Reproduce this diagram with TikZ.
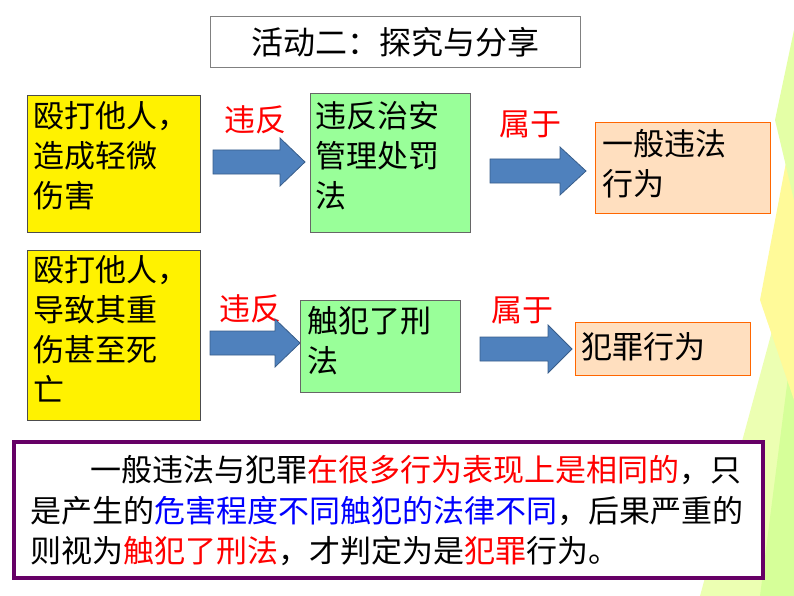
\documentclass[tikz,border=0pt]{standalone}
\usepackage{fontspec}
\setmainfont{Noto Sans CJK SC}
\definecolor{arrblue}{HTML}{4F81BD}
\definecolor{arrborder}{HTML}{385D8A}
\begin{document}
\begin{tikzpicture}[x=1pt,y=-1pt,
  ybox/.style={draw=black!70,fill=yellow,line width=0.8pt},
  gbox/.style={draw=black!60,fill=green!40!white,line width=0.8pt},
  obox/.style={draw=orange!80!red,fill=orange!25!white,line width=0.8pt},
  txt/.style={anchor=north west,align=left,font=\fontsize{31}{40}\selectfont,inner sep=0pt},
  lbl/.style={text=red,font=\fontsize{31}{34}\selectfont,inner sep=0pt},
  barrow/.style={fill=arrblue,draw=arrborder,line width=0.8pt}]
\useasboundingbox (0,0) rectangle (794,596);
% background decoration
\fill[green!25!yellow!30] (794,250) -- (700,596) -- (794,596) -- cycle;
\fill[green!40!yellow!40] (794,330) -- (760,596) -- (794,596) -- cycle;
\fill[yellow!40] (794,120) -- (760,300) -- (794,400) -- cycle;
\fill[green!30!yellow!35] (794,30) -- (775,120) -- (794,200) -- cycle;
% title
\node[draw=black!50,line width=1pt,fill=white,minimum width=370pt,minimum height=51pt,font=\fontsize{32}{36}\selectfont] (title) at (395,42) {活动二：探究与分享};
% row 1
\draw[ybox] (27,95) rectangle (200,232);
\node[txt] (a1) at (33,101) {殴打他人，\\造成轻微\\伤害};
\node[lbl] (v1) at (255,120) {违反};
\draw[barrow] (213,150) -- (280,150) -- (280,138) -- (305,162) -- (280,186) -- (280,174) -- (213,174) -- cycle;
\draw[gbox] (310,93) rectangle (470,232);
\node[txt] (b1) at (315,101) {违反治安\\管理处罚\\法};
\node[lbl] (s1) at (530,124) {属于};
\draw[barrow] (490,159) -- (560,159) -- (560,147) -- (586,171) -- (560,195) -- (560,183) -- (490,183) -- cycle;
\draw[obox] (595,122) rectangle (770,213);
\node[txt] (c1) at (602,129) {一般违法\\行为};
% row 2
\draw[ybox] (27,250) rectangle (200,420);
\node[txt] (a2) at (33,255) {殴打他人，\\导致其重\\伤甚至死\\亡};
\node[lbl] (v2) at (250,309) {违反};
\draw[barrow] (210,331) -- (275,331) -- (275,319) -- (300,343) -- (275,367) -- (275,355) -- (210,355) -- cycle;
\draw[gbox] (300,300) rectangle (460,392);
\node[txt] (b2) at (307,306) {触犯了刑\\法};
\node[lbl] (s2) at (522,310) {属于};
\draw[barrow] (480,337) -- (548,337) -- (548,325) -- (572,349) -- (548,373) -- (548,361) -- (480,361) -- cycle;
\draw[obox] (575,322) rectangle (750,375);
\node[txt] (c2) at (581,332) {犯罪行为};
% bottom
\draw[draw=violet!80!black,line width=4pt,fill=white] (14,442) rectangle (763,578);
\node[anchor=west,inner sep=0pt,font=\fontsize{31}{34}\selectfont] (l1) at (90,470) {一般违法与犯罪\textcolor{red}{在很多行为表现上是相同的}，只};
\node[anchor=west,inner sep=0pt,font=\fontsize{31}{34}\selectfont] (l2) at (30,511) {是产生的\textcolor{blue}{危害程度不同触犯的法律不同}，后果严重的};
\node[anchor=west,inner sep=0pt,font=\fontsize{31}{34}\selectfont] (l3) at (30,551) {则视为\textcolor{red}{触犯了刑法}，才判定为是\textcolor{red}{犯罪}行为。};
\end{tikzpicture}
\end{document}
